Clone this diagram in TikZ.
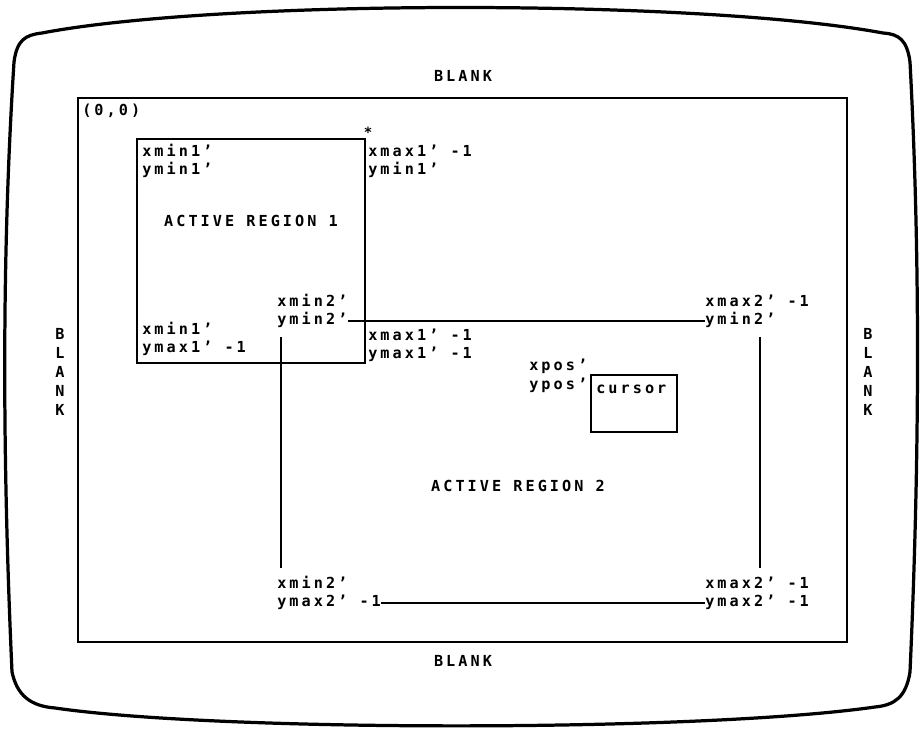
\documentclass[tikz,border=0pt]{standalone}
\usepackage{fontspec}
\newfontfamily\scrfont[LetterSpace=20.0]{DejaVu Sans Mono Bold}
\begin{document}
\begin{tikzpicture}[
  x=0.025cm, y=-0.025cm,
  lab/.style={font=\scrfont\fontsize{10.8}{12.8}\selectfont, inner sep=0pt,
              text height=7.9pt, text depth=2.4pt, anchor=west},
  vlab/.style={font=\scrfont\fontsize{10.8}{13.5}\selectfont, inner sep=0pt, align=center},
  bezel/.style={draw=black, line width=2.3pt, line join=round},
  frame/.style={draw=black, line width=1.5pt},
  region/.style={draw=black, line width=1.8pt},
  edge/.style={draw=black, line width=1.6pt}
]
\useasboundingbox (0,0) rectangle (923,730);

% screen bezel
\draw[bezel] (42,33) .. controls (220,-1) and (700,-1) .. (883,33)
  .. controls (899,34) and (907,40) .. (910,62)
  .. controls (920,250) and (920,450) .. (910,672)
  .. controls (906,697) and (895,705) .. (875,707)
  .. controls (700,732) and (220,732) .. (55,708)
  .. controls (30,706) and (17,695) .. (12,672)
  .. controls (2,450) and (2,250) .. (14,62)
  .. controls (17,40) and (25,35) .. cycle;

% visible screen
\draw[frame] (78,98) rectangle (847,642);
\node[lab, anchor=center] (blanktop) at (463,78) {BLANK};
\node[lab, anchor=center] (blankbot) at (463,663) {BLANK};
\node[vlab] (blankleft) at (60,372) {B\\L\\A\\N\\K};
\node[vlab] (blankright) at (868,372) {B\\L\\A\\N\\K};
\node[lab] (origin) at (82,112) {(0,0)};

% active region 1
\draw[region] (137,139) rectangle (365,363);
\node[lab, anchor=center] (act1) at (251,223) {ACTIVE REGION 1};
\node[lab] (xmin1tl) at (142,153) {xmin1’};
\node[lab] (ymin1tl) at (142,171) {ymin1’};
\node[lab, font=\scrfont\fontsize{10}{11}\selectfont, anchor=center] (star) at (368,134) {*};
\node[lab] (xmax1tr) at (368,153) {xmax1’ -1};
\node[lab] (ymin1tr) at (368,171) {ymin1’};
\node[lab] (xmin1bl) at (142,331) {xmin1’};
\node[lab] (ymax1bl) at (142,349) {ymax1’ -1};
\node[lab] (xmax1br) at (368,337) {xmax1’ -1};
\node[lab] (ymax1br) at (368,355) {ymax1’ -1};

% active region 2
\node[lab, anchor=center] (act2) at (518,488) {ACTIVE REGION 2};
\node[lab] (xmin2tl) at (277,303) {xmin2’};
\node[lab] (ymin2tl) at (277,321) {ymin2’};
\node[lab] (xmax2tr) at (705,303) {xmax2’ -1};
\node[lab] (ymin2tr) at (705,321) {ymin2’};
\node[lab] (xmin2bl) at (277,585) {xmin2’};
\node[lab] (ymax2bl) at (277,603) {ymax2’ -1};
\node[lab] (xmax2br) at (705,585) {xmax2’ -1};
\node[lab] (ymax2br) at (705,603) {ymax2’ -1};
\draw[edge] (ymin2tl.east) -- (ymin2tr.west);
\draw[edge] (ymax2bl.east) -- (ymax2br.west);
\draw[edge] ([xshift=3pt,yshift=-6pt]ymin2tl.south west) -- ([xshift=3pt,yshift=7pt]xmin2bl.north west);
\draw[edge] ([xshift=39pt,yshift=-6pt]ymin2tr.south west) -- ([xshift=39pt,yshift=7pt]xmax2br.north west);

% cursor
\node[lab] (xpos) at (529,367) {xpos’};
\node[lab] (ypos) at (529,386) {ypos’};
\draw[region] (591,375) rectangle (677,432);
\node[lab] (cursor) at (596,390) {cursor};
\end{tikzpicture}
\end{document}
